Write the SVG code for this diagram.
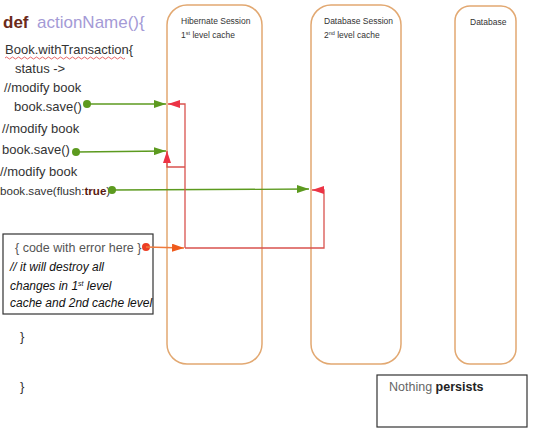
<svg xmlns="http://www.w3.org/2000/svg" width="540" height="444" viewBox="0 0 540 444">
<defs>
<marker id="ag" markerWidth="12" markerHeight="8" refX="12" refY="4" orient="auto" markerUnits="userSpaceOnUse"><path d="M0,0 L12,4 L0,8 Z" fill="#5c9a1f"/></marker>
<marker id="ar" markerWidth="12" markerHeight="8" refX="12" refY="4" orient="auto" markerUnits="userSpaceOnUse"><path d="M0,0 L12,4 L0,8 Z" fill="#ec3345"/></marker>
<marker id="ao" markerWidth="12" markerHeight="8" refX="12" refY="4" orient="auto" markerUnits="userSpaceOnUse"><path d="M0,0 L12,4 L0,8 Z" fill="#ef5a1c"/></marker>
</defs>
<style>
.lane{fill:#fff;stroke:#e2a871;stroke-width:1.5}
.hd{font-family:"Liberation Sans",Arial,sans-serif;font-size:8.5px;fill:#333}
.code{font-family:"Liberation Sans",Arial,sans-serif;font-size:13px;fill:#333}
.it{font-family:"Liberation Sans",Arial,sans-serif;font-size:12px;font-style:italic;fill:#111}
.g{stroke:#5c9a1f;stroke-width:1.3;fill:none}
.r{stroke:#d9534f;stroke-width:1.3;fill:none}
.box{fill:#fff;stroke:#333;stroke-width:1.2}
</style>
<rect width="540" height="444" fill="#fff"/>
<g id="hibernate-session">
<rect class="lane" x="167" y="5" width="95" height="359" rx="20"/>
<text class="hd" x="181" y="24">Hibernate Session</text>
<text class="hd" x="181" y="38">1<tspan style="font-size:5.5px" dy="-3">st</tspan><tspan dy="3"> level cache</tspan></text>
</g>
<g id="database-session">
<rect class="lane" x="311" y="5" width="90" height="359" rx="20"/>
<text class="hd" x="324" y="24">Database Session</text>
<text class="hd" x="324" y="38">2<tspan style="font-size:5.5px" dy="-3">nd</tspan><tspan dy="3"> level cache</tspan></text>
</g>
<g id="database">
<rect class="lane" x="455" y="6" width="61" height="358" rx="15"/>
<text class="hd" x="470" y="25">Database</text>
</g>
<g id="code">
<text x="3" y="28" font-family="Liberation Sans,Arial,sans-serif" font-size="17" font-weight="bold" fill="#6b2a1a">def</text>
<text x="37" y="28" font-family="Liberation Sans,Arial,sans-serif" font-size="17" fill="#a49ad6">actionName(){</text>
<text class="code" x="5" y="54">Book.withTransaction{</text>
<path d="M5,58 q1.5,-2 3,0 t3,0 t3,0 t3,0 t3,0 t3,0 t3,0 t3,0 t3,0 t3,0 t3,0 t3,0 t3,0 t3,0 t3,0 t3,0 t3,0 t3,0 t3,0 t3,0 t3,0 t3,0 t3,0 t3,0 t3,0 t3,0 t3,0 t3,0 t3,0 t3,0 t3,0 t3,0 t3,0 t3,0 t3,0 t3,0 t3,0 t3,0 t3,0 t3,0" fill="none" stroke="#e04040" stroke-width="0.8"/>
<text class="code" x="15" y="73">status -&gt;</text>
<text class="code" x="4" y="92">//modify book</text>
<text class="code" x="14" y="111">book.save()</text>
<text class="code" x="2" y="133">//modify book</text>
<text class="code" x="2" y="154">book.save()</text>
<text class="code" x="0" y="176">//modify book</text>
<text class="code" x="0" y="195" style="font-size:11.6px">book.save(flush:<tspan font-weight="bold" fill="#5a1a10">true</tspan>)</text>
<text class="code" x="20" y="341">}</text>
<text class="code" x="20" y="391">}</text>
</g>
<g id="error-box">
<rect class="box" x="3" y="234" width="150" height="80"/>
<text class="code" x="15" y="252" style="font-size:12.5px;fill:#555">{ code with error here }</text>
<text class="it" x="10" y="271">// it will destroy all</text>
<text class="it" x="10" y="290">changes in 1<tspan style="font-size:7px" dy="-4">st</tspan><tspan dy="4"> level</tspan></text>
<text class="it" x="10" y="307">cache and 2nd cache level</text>
</g>
<g id="nothing-persists">
<rect class="box" x="377" y="375" width="150" height="52"/>
<text x="389" y="391" font-family="Liberation Sans,Arial,sans-serif" font-size="12.5" fill="#666">Nothing <tspan fill="#222" font-weight="bold">persists</tspan></text>
</g>
<g id="connectors">
<circle cx="87" cy="104" r="4" fill="#5c9a1f"/>
<line class="g" x1="87" y1="104" x2="166" y2="104" marker-end="url(#ag)"/>
<circle cx="76" cy="152" r="4" fill="#5c9a1f"/>
<line class="g" x1="76" y1="152" x2="166" y2="151" marker-end="url(#ag)"/>
<circle cx="112" cy="190" r="4" fill="#5c9a1f"/>
<line class="g" x1="112" y1="190" x2="309" y2="189" marker-end="url(#ag)"/>
<circle cx="146" cy="247" r="4" fill="#ec3e24"/>
<line x1="146" y1="247" x2="184" y2="248" stroke="#ef7a3c" stroke-width="1.3" marker-end="url(#ao)"/>
<path class="r" d="M185,248 L185,104 L168,104" marker-end="url(#ar)"/>
<path class="r" d="M185,167 L167,167 L167,151" marker-end="url(#ar)"/>
<path class="r" d="M185,248 L324,248 L324,190 L312,190" marker-end="url(#ar)"/>
</g>
</svg>
